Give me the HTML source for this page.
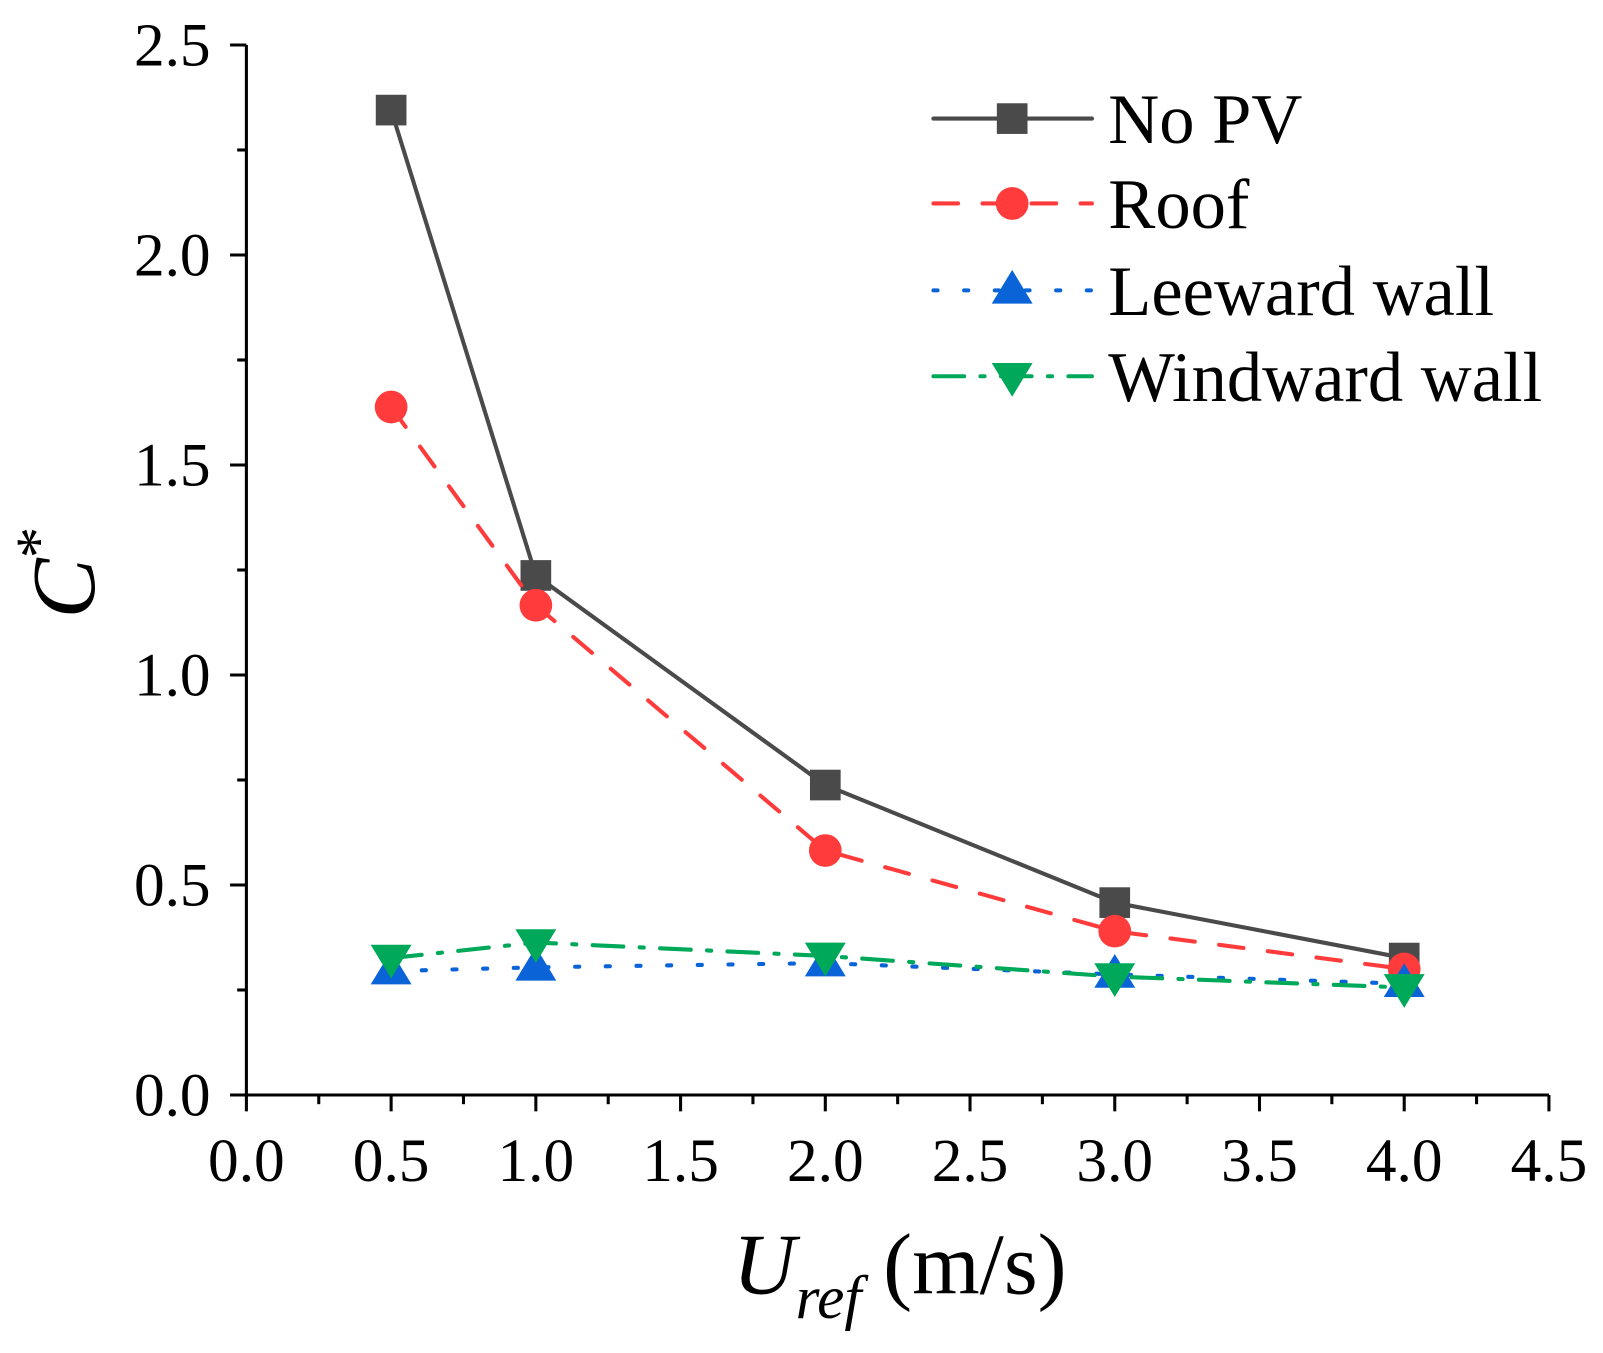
<!DOCTYPE html>
<html><head><meta charset="utf-8"><style>
html,body{margin:0;padding:0;background:#fff;}
svg text{font-family:"Liberation Serif",serif;fill:#000;}
</style></head><body>
<svg id="chart" width="1603" height="1348" viewBox="0 0 1603 1348" xmlns="http://www.w3.org/2000/svg">
<g transform="scale(1.0224)">
<g id="axes"></g>
<g id="series"></g>
<g id="legend"></g>
<text transform="translate(92,560) rotate(-90)" text-anchor="middle" font-size="88" font-style="italic">C<tspan font-style="normal" font-size="62" dy="-34">*</tspan></text>
<text x="880" y="1265" text-anchor="middle" font-size="85"><tspan font-style="italic">U</tspan><tspan font-style="italic" font-size="60" dy="24">ref</tspan><tspan dy="-24"> (m/s)</tspan></text>
</g>
</svg>
<script>
const xCats = [0.5, 1.0, 2.0, 3.0, 4.0];
const noPV = [2.345, 1.237, 0.738, 0.458, 0.326];
const roof = [1.638, 1.166, 0.582, 0.39, 0.30];
const leeward = [0.295, 0.304, 0.314, 0.287, 0.265];
const windward = [0.326, 0.363, 0.331, 0.282, 0.256];
const xTicks = ["0.0","0.5","1.0","1.5","2.0","2.5","3.0","3.5","4.0","4.5"];
const yTicks = ["0.0","0.5","1.0","1.5","2.0","2.5"];
const seriesNames = ["No PV","Roof","Leeward wall","Windward wall"];

const NS="http://www.w3.org/2000/svg";
const X0=241,X1=1515,Y0=1071,Y1=44;
const sx=v=>X0+(v/4.5)*(X1-X0);
const sy=v=>Y0-(v/2.5)*(Y0-Y1);
function mk(tag,attrs,parent){const e=document.createElementNS(NS,tag);for(const k in attrs)e.setAttribute(k,attrs[k]);parent.appendChild(e);return e;}
const axes=document.getElementById('axes');
let a=mk('line',{x1:X0,y1:Y1,x2:X0,y2:Y0+1.5,stroke:'#000','stroke-width':3},axes);


a=mk('line',{x1:X0-1.5,y1:Y0,x2:X1,y2:Y0,stroke:'#000','stroke-width':3},axes);


for(let i=0;i<=18;i++){const v=i*0.25;const x=sx(v);const major=i%2===0;
 mk('line',{x1:x,y1:Y0,x2:x,y2:Y0+(major?16:9),stroke:'#000','stroke-width':3},axes);}
xTicks.forEach(t=>{const t1=mk('text',{x:sx(parseFloat(t)),y:1155,'text-anchor':'middle','font-size':60},axes);t1.textContent=t;
 
 });
for(let i=0;i<=10;i++){const v=i*0.25;const y=sy(v);const major=i%2===0;
 mk('line',{x1:X0,y1:y,x2:X0-(major?16:9),y2:y,stroke:'#000','stroke-width':3},axes);}
yTicks.forEach(t=>{const t1=mk('text',{x:206,y:sy(parseFloat(t))+20,'text-anchor':'end','font-size':60},axes);t1.textContent=t;
 
 });

const styles=[
 {c:'#4a4a4a',dash:'',m:'sq',name:'no-pv'},
 {c:'#ff3b3b',dash:'24 24',m:'ci',name:'roof'},
 {c:'#0a64d8',dash:'4 26',m:'tu',name:'leeward-wall'},
 {c:'#00a85a',dash:'30 16 4 16',m:'td',name:'windward-wall'}];
function marker(g,m,x,y,c){
 if(m==='sq')return mk('rect',{x:x-15,y:y-15,width:30,height:30,fill:c},g);
 if(m==='ci')return mk('circle',{cx:x,cy:y,r:16,fill:c},g);
 if(m==='tu')return mk('polygon',{points:`${x},${y-20} ${x-20},${y+13} ${x+20},${y+13}`,fill:c},g);
 return mk('polygon',{points:`${x},${y+20} ${x-20},${y-13} ${x+20},${y-13}`,fill:c},g);
}
const seriesG=document.getElementById('series');
[noPV,roof,leeward,windward].forEach((vals,si)=>{
 const s=styles[si];const g=mk('g',{},seriesG);
 
 
 const pts=vals.map((v,i)=>sx(xCats[i])+','+sy(v)).join(' ');
 const pl=mk('polyline',{points:pts,fill:'none',stroke:s.c,'stroke-width':4,'stroke-dasharray':s.dash,'stroke-linecap':'round'},g);
 
 
 vals.forEach((v,i)=>{const mm=marker(g,s.m,sx(xCats[i]),sy(v),s.c);
  
  });
});
const lg=document.getElementById('legend');
const ly=[116,199,284,368];
seriesNames.forEach((n,i)=>{const s=styles[i];const g=mk('g',{},lg);
 
 
 mk('line',{x1:913,y1:ly[i],x2:1068,y2:ly[i],stroke:s.c,'stroke-width':4,'stroke-dasharray':s.dash,'stroke-linecap':'round'},g);
 marker(g,s.m,990,ly[i],s.c);
 const t=mk('text',{x:1084,y:ly[i]+24,'font-size':69},g);t.textContent=n;
});
</script>
</body></html>
